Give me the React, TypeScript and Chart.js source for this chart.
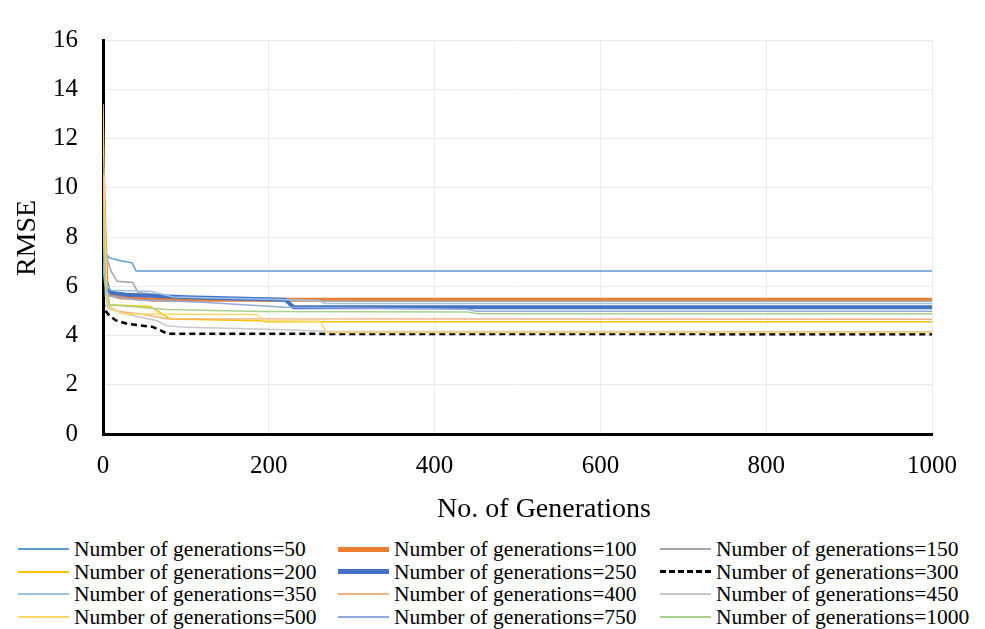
import React, { useEffect, useRef } from "react";
import { Chart, registerables } from "chart.js";

Chart.register(...registerables);

// [generation, RMSE] pairs
const rmse50: [number, number][] = [[0, 8.2], [2, 8.1], [4, 7.3], [8, 7.15], [20, 7.05], [35, 6.95], [40, 6.62], [1000, 6.62]];
const rmse100: [number, number][] = [[0, 10.5], [2, 8], [4, 6.2], [7, 5.7], [20, 5.55], [45, 5.5], [60, 5.45], [1000, 5.45]];
const rmse150: [number, number][] = [[0, 9.0], [3, 7.5], [6, 7.0], [10, 6.6], [17, 6.2], [36, 6.15], [42, 5.75], [80, 5.6], [150, 5.45], [300, 5.4], [1000, 5.4]];
const rmse200: [number, number][] = [[0, 9.0], [3, 6.5], [8, 5.25], [57, 5.18], [63, 5.05], [81, 4.67], [190, 4.6], [195, 4.56], [1000, 4.56]];
const rmse250: [number, number][] = [[0, 7.5], [3, 6.2], [8, 5.75], [30, 5.65], [100, 5.55], [220, 5.45], [230, 5.15], [1000, 5.15]];
const rmse300: [number, number][] = [[0, 5.4], [3, 5.0], [8, 4.8], [15, 4.62], [30, 4.47], [60, 4.35], [70, 4.2], [78, 4.07], [1000, 4.05]];
const rmse350: [number, number][] = [[0, 6.8], [3, 6.1], [10, 5.84], [57, 5.8], [85, 5.56], [200, 5.47], [260, 5.42], [268, 5.3], [1000, 5.3]];
const rmse400: [number, number][] = [[0, 10.6], [3, 6.5], [6, 5.2], [18, 4.98], [45, 4.87], [77, 4.68], [1000, 4.66]];
const rmse450: [number, number][] = [[0, 9.0], [3, 5.6], [6, 5.1], [30, 4.85], [65, 4.6], [77, 4.4], [100, 4.33], [200, 4.25], [270, 4.17], [1000, 4.15]];
const rmse500: [number, number][] = [[0, 13.4], [2, 9], [5, 5.5], [10, 5.1], [24, 4.87], [186, 4.85], [192, 4.6], [262, 4.58], [270, 4.12], [1000, 4.12]];
const rmse750: [number, number][] = [[0, 7.0], [3, 6], [8, 5.6], [40, 5.45], [120, 5.35], [220, 5.15], [440, 5.07], [450, 4.98], [1000, 4.98]];
const rmse1000: [number, number][] = [[0, 9.4], [3, 6], [8, 5.25], [77, 5.06], [190, 4.97], [440, 4.95], [452, 4.88], [1000, 4.88]];

const seriesLabels = [
  "Number of generations=50",
  "Number of generations=100",
  "Number of generations=150",
  "Number of generations=200",
  "Number of generations=250",
  "Number of generations=300",
  "Number of generations=350",
  "Number of generations=400",
  "Number of generations=450",
  "Number of generations=500",
  "Number of generations=750",
  "Number of generations=1000",
];
const seriesData = [rmse50, rmse100, rmse150, rmse200, rmse250, rmse300, rmse350, rmse400, rmse450, rmse500, rmse750, rmse1000];
const seriesColors = ["#5B9BD5", "#ED7D31", "#A5A5A5", "#FFC000", "#4472C4", "#000000", "#9DC3E6", "#F4B183", "#C9C9C9", "#FFD966", "#8FAADC", "#A9D18E"];
const seriesWidths = [1.5, 4, 1.5, 1.5, 4, 2.5, 1.5, 1.5, 1.5, 1.5, 1.5, 1.5];
const seriesDashed = [false, false, false, false, false, true, false, false, false, false, false, false];

const yTicks = [0, 2, 4, 6, 8, 10, 12, 14, 16];
const xTicks = [0, 200, 400, 600, 800, 1000];

const FONT = "'Liberation Serif', 'Times New Roman', serif";

const titlePlugin = {
  id: "axisTitles",
  afterDraw(chart: any) {
    const ctx = chart.ctx;
    ctx.save();
    ctx.fillStyle = "#000";
    ctx.font = `28px ${FONT}`;
    ctx.textAlign = "center";
    ctx.textBaseline = "middle";
    ctx.fillText("No. of Generations", 544, 510);
    ctx.translate(28, 238);
    ctx.rotate(-Math.PI / 2);
    ctx.fillText("RMSE", 0, 0);
    ctx.restore();
  },
};

export default function App() {
  const ref = useRef<HTMLCanvasElement>(null);
  useEffect(() => {
    if (!ref.current) return;
    const chart = new Chart(ref.current, {
      type: "line",
      data: {
        datasets: seriesData.map((d, i) => ({
          label: seriesLabels[i],
          data: d.map(([x, y]) => ({ x, y })),
          borderColor: seriesColors[i],
          backgroundColor: seriesColors[i],
          borderWidth: seriesWidths[i],
          borderDash: seriesDashed[i] ? [6, 4] : [],
          pointRadius: 0,
          tension: 0,
          fill: false,
          order: -i,
        })),
      },
      options: {
        animation: false,
        responsive: false,
        maintainAspectRatio: false,
        layout: { padding: { left: 0, top: 20, right: 53, bottom: 0 } },
        plugins: { legend: { display: false }, tooltip: { enabled: false } },
        scales: {
          x: {
            type: "linear",
            min: 0,
            max: 1000,
            afterFit: (s: any) => { s.height = 96; },
            afterBuildTicks: (s: any) => { s.ticks = xTicks.map((v) => ({ value: v })); },
            ticks: { color: "#000", font: { family: FONT, size: 25 }, padding: 17, maxRotation: 0, callback: (v: any) => String(v) },
            grid: { color: "#EBEBEB", lineWidth: 1, drawTicks: false },
            border: { color: "#000", width: 3 },
          },
          y: {
            type: "linear",
            min: 0,
            max: 16,
            afterFit: (s: any) => { s.width = 103; },
            afterBuildTicks: (s: any) => { s.ticks = yTicks.map((v) => ({ value: v })); },
            ticks: { color: "#000", font: { family: FONT, size: 25 }, padding: 25, callback: (v: any) => String(v) },
            grid: { color: "#EBEBEB", lineWidth: 1, drawTicks: false },
            border: { color: "#000", width: 3 },
          },
        },
      },
      plugins: [titlePlugin],
    });
    return () => chart.destroy();
  }, []);

  const colLeft = [18, 338, 660];
  const rowTop = [549, 571.5, 594, 616.5];

  return (
    <div style={{ position: "absolute", left: 0, top: 0, width: 985, height: 629, background: "#fff", fontFamily: FONT }}>
      <canvas ref={ref} width={985} height={530} style={{ position: "absolute", left: 0, top: 0 }} />
      {seriesLabels.map((lab, i) => {
        const col = i % 3;
        const row = Math.floor(i / 3);
        const w = seriesWidths[i] > 3 ? 5 : seriesDashed[i] ? 3 : 2;
        return (
          <div key={lab} style={{ position: "absolute", left: colLeft[col], top: rowTop[row] - 12, height: 24, display: "flex", alignItems: "center", whiteSpace: "nowrap" }}>
            <div style={{ width: 51, height: 0, borderTop: `${w}px ${seriesDashed[i] ? "dashed" : "solid"} ${seriesColors[i]}`, marginRight: 5 }} />
            <span style={{ fontSize: 21.5, color: "#000", lineHeight: "24px" }}>{lab}</span>
          </div>
        );
      })}
    </div>
  );
}
